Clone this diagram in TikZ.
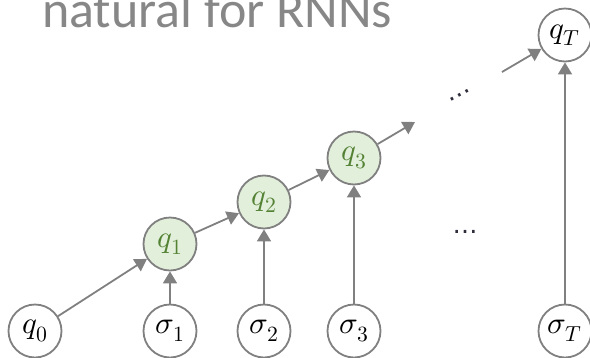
\documentclass[tikz,border=0pt]{standalone}
\usepackage{fontspec}
\usepackage{unicode-math}
\setmathfont{Latin Modern Math}
\setsansfont{Carlito}
\newfontfamily\dotsfont{DejaVu Sans}
\usetikzlibrary{arrows.meta}
\definecolor{edgegray}{RGB}{128,128,128}
\definecolor{titlegray}{RGB}{135,135,135}
\definecolor{cellfill}{RGB}{226,239,218}
\definecolor{cellgreen}{RGB}{84,130,53}
\definecolor{dotink}{RGB}{45,45,60}
\begin{document}
\begin{tikzpicture}[x=1pt,y=-1pt,
    state/.style={circle,draw=edgegray,line width=1.8pt,fill=white,
      minimum size=53pt,inner sep=0pt,font=\fontsize{31}{31}\selectfont},
    hidden/.style={state,fill=cellfill,text=cellgreen},
    link/.style={draw=edgegray,line width=1.8pt,-{Triangle[length=12pt,width=14pt]}},
    dots/.style={text=dotink,inner sep=0pt,font=\dotsfont\fontsize{25}{25}\selectfont}]
    \useasboundingbox (0,0) rectangle (590,357);
    \node[anchor=base west,inner sep=0pt,text=titlegray,
      font=\sffamily\fontsize{52}{52}\selectfont] (title) at (42,27) {natural for RNNs};
    % inputs
    \foreach \n/\x/\t in {q0/35/q_0,s1/170/\sigma_1,s2/264/\sigma_2,s3/354/\sigma_3,sT/565/\sigma_T}{
        \node[state] (\n) at (\x,331) {$\t$};
    }
    % hidden states
    \foreach \n/\x/\y/\t in {q1/170/244/q_1,q2/264/202/q_2,q3/354/158/q_3}{
        \node[hidden] (\n) at (\x,\y) {$\t$};
    }
    \node[state] (qT) at (565,35) {$q_T$};
    \path (415,122) coordinate (q3out)
        (502,72) coordinate (qTin);
    \node[dots,rotate=28] (updots) at (460,95) {…};
    \node[dots] (middots) at (465,232) {…};
    \draw[link] (q0)--(q1);
    \draw[link] (q1)--(q2);
    \draw[link] (q2)--(q3);
    \draw[link] (q3)--(q3out);
    \draw[link] (qTin)--(qT);
    \foreach \a/\b in {s1/q1,s2/q2,s3/q3,sT/qT}{
        \draw[link] (\a)--(\b);
    }
\end{tikzpicture}
\end{document}
